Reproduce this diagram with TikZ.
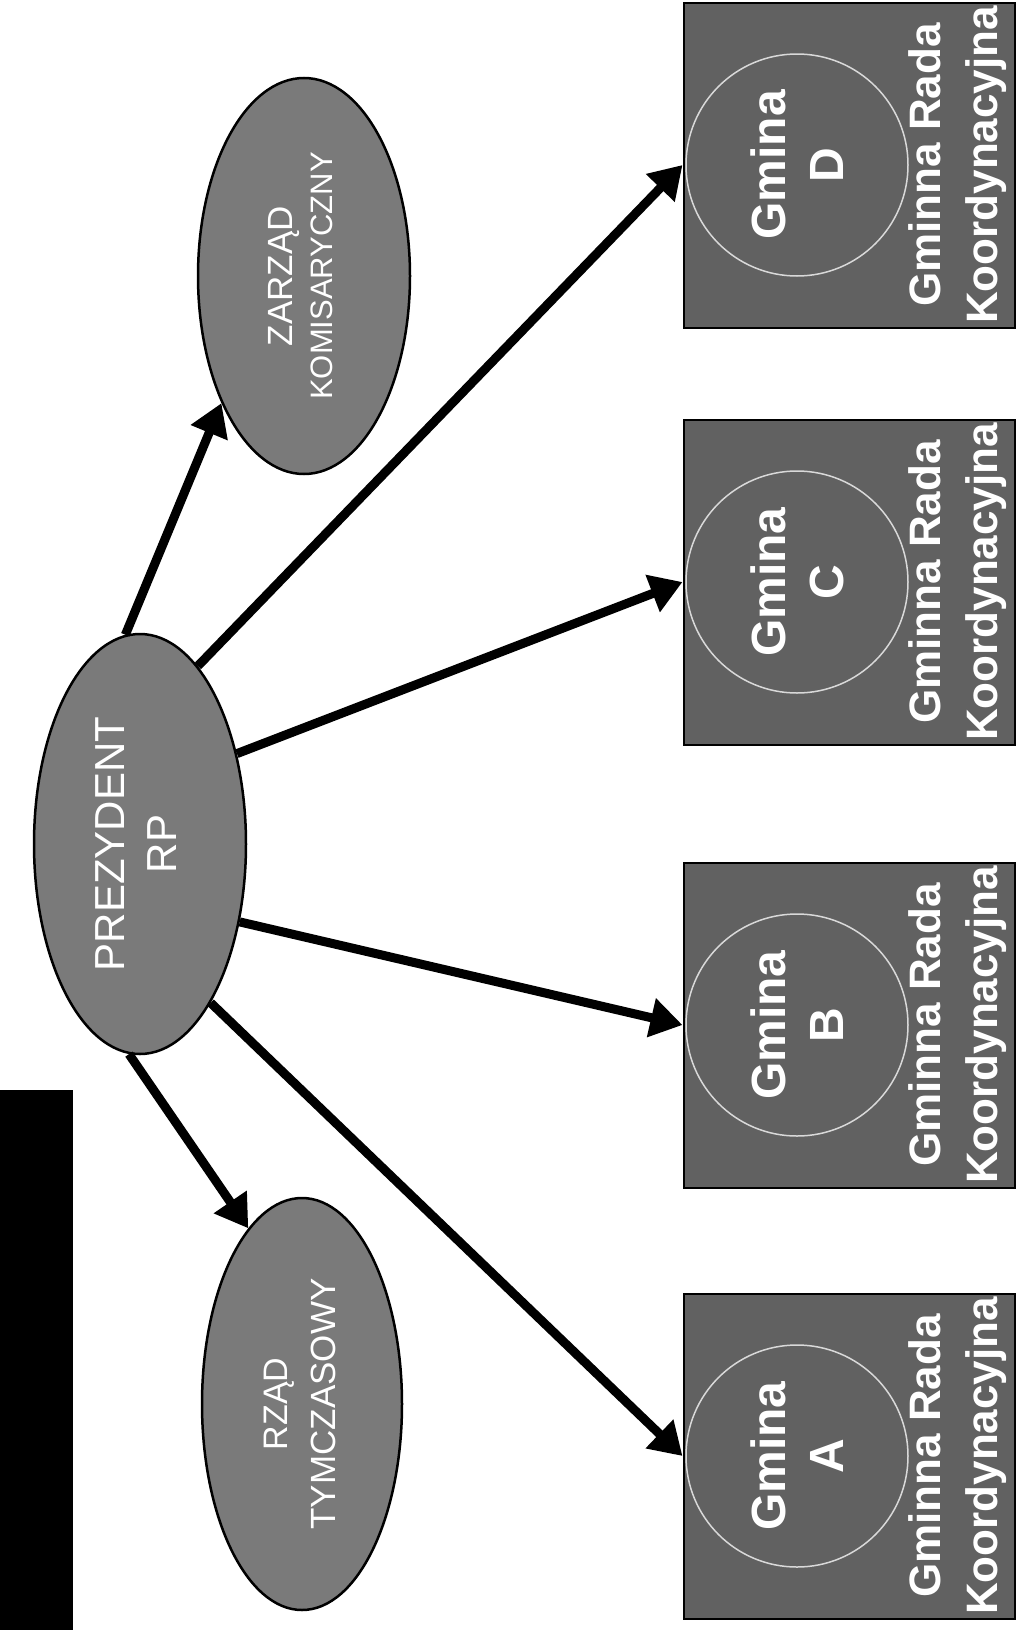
\documentclass[tikz,border=0pt]{standalone}
\usepackage{fontspec}
\setmainfont{Liberation Sans}
\usepackage{tikz}
\usetikzlibrary{shapes.geometric, arrows.meta}

\newcommand{\pion}[1]{\rotatebox{90}{\begin{tabular}{@{}c@{}}#1\end{tabular}}}

\begin{document}
\begin{tikzpicture}[x = 1pt, y = -1pt,
  owal/.style = {ellipse, draw = black, line width = 2.5pt, fill = black!52, text = white, inner sep = 0pt},
  kwadrat/.style = {rectangle, draw = black, line width = 2pt, fill = black!62, minimum width = 331pt, minimum height = 325pt},
  kolo/.style = {circle, draw = white!85!black, line width = 1.5pt, minimum size = 222pt, inner sep = 0pt, rotate = 90, align = center, text = white, font = \bfseries\fontsize{48}{58}\selectfont},
  rada/.style = {rotate = 90, align = center, inner sep = 0pt, text = white, font = \bfseries\fontsize{44}{57}\selectfont},
  strzalka/.style = {line width = 9pt, -{Triangle[length = 32pt, width = 38pt]}}]
\useasboundingbox (0,0) rectangle (1017,1630);
\fill [black] (0,1090) rectangle (73,1630);
% owale
\node [owal, minimum width = 212pt, minimum height = 420pt, font = \fontsize{42}{52}\selectfont] (prez) at (140,844) {\pion{PREZYDENT\\RP}};
\node [owal, minimum width = 212pt, minimum height = 396pt, font = \fontsize{35}{40}\selectfont] (zarzad) at (304,276) {\pion{ZARZĄD\\\fontsize{31}{34}\selectfont KOMISARYCZNY}};
\node [owal, minimum width = 200pt, minimum height = 412pt, font = \fontsize{34}{48}\selectfont] (rzad) at (302,1404) {\pion{RZĄD\\\fontsize{35}{40}\selectfont TYMCZASOWY}};
% gminy
\node [kwadrat] (boxD) at (849,165) {};
\node [kolo] (gmD) at (797,165) {Gmina\\D};
\node [rada] (radaD) at (958,165) {Gminna Rada\\Koordynacyjna};
\node [kwadrat] (boxC) at (849,582) {};
\node [kolo] (gmC) at (797,582) {Gmina\\C};
\node [rada] (radaC) at (958,582) {Gminna Rada\\Koordynacyjna};
\node [kwadrat] (boxB) at (849,1025) {};
\node [kolo] (gmB) at (797,1025) {Gmina\\B};
\node [rada] (radaB) at (958,1025) {Gminna Rada\\Koordynacyjna};
\node [kwadrat] (boxA) at (849,1456) {};
\node [kolo] (gmA) at (797,1456) {Gmina\\A};
\node [rada] (radaA) at (958,1456) {Gminna Rada\\Koordynacyjna};
% strzalki
\draw [strzalka] (prez.94) -- (zarzad.237);
\draw [strzalka] (prez.267) -- (rzad.107);
\draw [strzalka] (prez.72) -- (boxD.west);
\draw [strzalka] (prez.43) -- (boxC.west);
\draw [strzalka] (prez.322) -- (boxB.west);
\draw [strzalka] (prez.294) -- (boxA.west);
\end{tikzpicture}
\end{document}
